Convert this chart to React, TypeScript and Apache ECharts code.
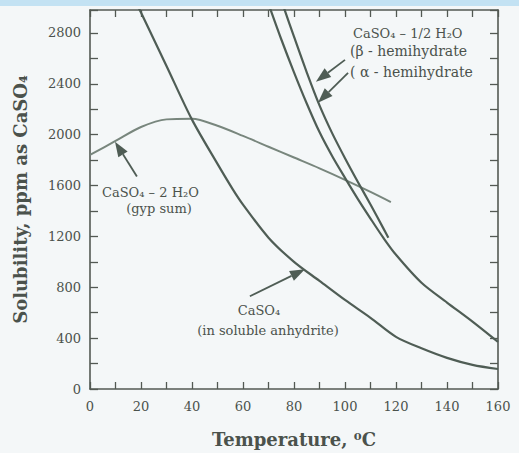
import React, { useEffect, useRef } from "react";
import * as echarts from "echarts";

// Temperature (°C) / solubility (ppm as CaSO4)
const gypsumT = [0, 10, 20, 30, 40, 50, 60, 70, 80, 90, 100, 110, 118];
const gypsumS = [1840, 1950, 2060, 2120, 2125, 2070, 1990, 1905, 1820, 1735, 1645, 1550, 1470];

const anhydriteT = [19, 20, 30, 40, 50, 56, 60, 70, 80, 90, 100, 110, 120, 130, 140, 150, 160];
const anhydriteS = [3000, 2960, 2540, 2118, 1770, 1570, 1450, 1190, 1000, 850, 700, 560, 410, 320, 245, 190, 157];

const alphaT = [70.5, 75, 80, 85, 90, 95, 100, 105, 110, 115, 120, 130, 140, 150, 160];
const alphaS = [3000, 2750, 2490, 2245, 2020, 1830, 1660, 1495, 1340, 1190, 1055, 835, 680, 530, 370];

const betaT = [76, 80, 85, 90, 95, 100, 105, 110, 115, 117];
const betaS = [3000, 2770, 2490, 2230, 2010, 1815, 1630, 1450, 1265, 1190];

const xTickLabels = [0, 20, 40, 60, 80, 100, 120, 140, 160];
const yTickLabels = [0, 400, 800, 1200, 1600, 2000, 2400, 2800];

const zip = (xs: number[], ys: number[]) => xs.map((x, i) => [x, ys[i]]);

const LINE_DARK = "#4f5d55";
const LINE_LIGHT = "#78867d";
const TEXT = "#4b524c";
const SERIF = "'DejaVu Serif', 'Liberation Serif', serif";

// annotation arrows in data coordinates: [tail, tip]
const arrows: number[][][] = [
  [[18.4, 1671], [9.8, 1945]],
  [[62.7, 729], [84.3, 941]],
  [[100, 2588], [88.6, 2416]],
  [[101.2, 2486], [89.4, 2251]],
];

export default function App() {
  const ref = useRef<HTMLDivElement>(null);
  useEffect(() => {
    document.body.style.margin = "0";
    document.body.style.background = "#f4f7f8";
    const chart = echarts.init(ref.current!, null, { renderer: "svg" });
    const axisLine = { show: true, onZero: false, lineStyle: { color: "#535953", width: 1.6 } };
    const tick = (len: number) => ({ show: true, inside: true, length: len, lineStyle: { color: "#535953", width: 1.3 } });
    const lineSeries = (name: string, data: number[][], color: string, width: number) => ({
      name,
      type: "line",
      data,
      showSymbol: false,
      smooth: 0.3,
      clip: true,
      lineStyle: { color, width },
      xAxisIndex: 0,
      yAxisIndex: 0,
    });
    const option: any = {
      animation: false,
      backgroundColor: "#f4f7f8",
      grid: { left: 90, right: 21, top: 10, bottom: 63 },
      xAxis: [
        {
          type: "value", min: 0, max: 160, interval: 10, position: "bottom",
          axisLine, axisTick: tick(7), splitLine: { show: false },
          axisLabel: {
            color: TEXT, fontFamily: SERIF, fontSize: 13, margin: 11,
            formatter: (v: number) => (xTickLabels.includes(v) ? String(v) : ""),
          },
          name: "Temperature, \u2070C", nameLocation: "middle", nameGap: 41,
          nameTextStyle: { color: TEXT, fontFamily: SERIF, fontWeight: "bold", fontSize: 18 },
        },
        {
          type: "value", min: 0, max: 160, interval: 10, position: "top",
          axisLine, axisTick: tick(7), axisLabel: { show: false }, splitLine: { show: false },
        },
      ],
      yAxis: [
        {
          type: "value", min: 0, max: 2980, interval: 200, position: "left",
          axisLine, axisTick: tick(8), splitLine: { show: false },
          axisLabel: {
            color: TEXT, fontFamily: SERIF, fontSize: 13, margin: 9,
            formatter: (v: number) => (yTickLabels.includes(v) ? String(v) : ""),
          },
          name: "Solubility, ppm as CaSO\u2084", nameLocation: "middle", nameGap: 61, nameRotate: 90,
          nameTextStyle: { color: TEXT, fontFamily: SERIF, fontWeight: "bold", fontSize: 18 },
        },
        {
          type: "value", min: 0, max: 2980, interval: 200, position: "right",
          axisLine, axisTick: tick(8), axisLabel: { show: false }, splitLine: { show: false },
        },
      ],
      series: [
        lineSeries("gypsum", zip(gypsumT, gypsumS), LINE_LIGHT, 2),
        lineSeries("anhydrite", zip(anhydriteT, anhydriteS), LINE_DARK, 2.2),
        lineSeries("alpha", zip(alphaT, alphaS), LINE_DARK, 2.2),
        lineSeries("beta", zip(betaT, betaS), LINE_DARK, 2.2),
      ],
    };
    chart.setOption(option);

    const txt = (text: string, x: number, y: number, align: string, size = 13) => ({
      type: "text", x, y,
      style: { text, fill: TEXT, font: `${size}px ${SERIF}`, textAlign: align, textVerticalAlign: "middle" },
    });
    const graphics: any[] = [
      { type: "rect", shape: { x: 0, y: 0, width: 519, height: 6 }, style: { fill: "#c3e2f3" } },
      txt("CaSO\u2084 \u2013 1/2 H\u2082O", 353, 33, "left", 13),
      txt("(\u03B2 - hemihydrate", 350, 51, "left", 14),
      txt("( \u03B1 - hemihydrate", 350, 72, "left", 14),
      txt("CaSO\u2084 \u2013 2 H\u2082O", 102, 192, "left", 13),
      txt("(gyp sum)", 159, 208, "center", 13),
      txt("CaSO\u2084", 259, 310, "center", 13),
      txt("(in soluble anhydrite)", 268, 330, "center", 13),
    ];
    arrows.forEach(([tail, tip]) => {
      const a = chart.convertToPixel({ xAxisIndex: 0, yAxisIndex: 0 }, tail) as number[];
      const b = chart.convertToPixel({ xAxisIndex: 0, yAxisIndex: 0 }, tip) as number[];
      const dx = b[0] - a[0], dy = b[1] - a[1];
      const len = Math.hypot(dx, dy);
      const ux = dx / len, uy = dy / len;
      const L = 15, W = 5.5;
      const bx = b[0] - ux * L, by = b[1] - uy * L;
      graphics.push({
        type: "line",
        shape: { x1: a[0], y1: a[1], x2: bx, y2: by },
        style: { stroke: LINE_DARK, lineWidth: 1.8 },
      });
      graphics.push({
        type: "polygon",
        shape: { points: [[b[0], b[1]], [bx - uy * W, by + ux * W], [bx + uy * W, by - ux * W]] },
        style: { fill: LINE_DARK },
      });
    });
    chart.setOption({ graphic: graphics });
    return () => chart.dispose();
  }, []);
  return <div ref={ref} style={{ width: 519, height: 453 }} />;
}
